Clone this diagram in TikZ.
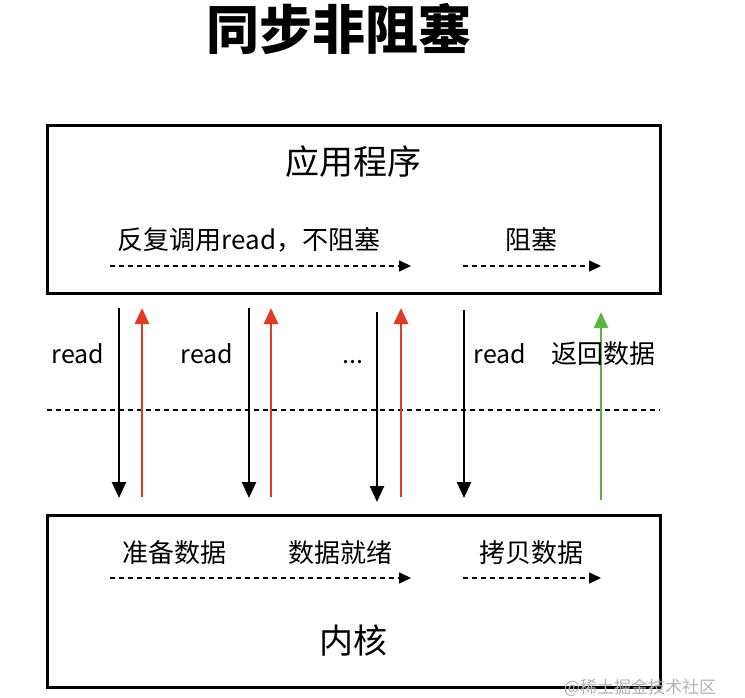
\documentclass[tikz,border=0pt]{standalone}
\usepackage{fontspec}
\setmainfont{Noto Sans CJK SC}
\usetikzlibrary{arrows.meta}
\definecolor{redarr}{RGB}{222,58,38}
\definecolor{greenarr}{RGB}{92,180,60}
\tikzset{
  box/.style={draw=black,line width=3pt},
  lbl/.style={inner sep=0pt,font=\fontsize{26}{26}\selectfont},
  rlbl/.style={inner sep=0pt,font=\fontsize{25}{25}\selectfont},
  big/.style={inner sep=0pt,font=\fontsize{34}{34}\selectfont},
  flow/.style={line width=1.6pt,dash pattern=on 5pt off 4pt,-{Triangle[width=11pt,length=12pt]}},
  down/.style={line width=2.6pt,-{Triangle[width=14pt,length=16pt]}},
  up/.style={line width=2.8pt,-{Triangle[width=14pt,length=16pt]}},
  sep/.style={line width=1.6pt,dash pattern=on 5pt off 4pt}
}
\begin{document}
\begin{tikzpicture}[x=1pt,y=-1pt]
\useasboundingbox (0,0) rectangle (745,698);
% title
\node[inner sep=0pt,font=\fontsize{53}{53}\selectfont\bfseries] (title) at (339,29) {同步非阻塞};
% application box
\node[box,minimum width=613pt,minimum height=168pt,inner sep=0pt] (app) at (353.5,209.5) {};
\node[big] (appname) at (353,162) {应用程序};
\node[lbl] (t1) at (249,240) {反复调用read，不阻塞};
\node[lbl] (t2) at (531,240) {阻塞};
\coordinate (a1s) at (110,266); \coordinate (a1e) at (411,266);
\coordinate (a2s) at (463,266); \coordinate (a2e) at (601,266);
\draw[flow] (a1s) -- (a1e);
\draw[flow] (a2s) -- (a2e);
% kernel box
\node[box,minimum width=613pt,minimum height=172pt,inner sep=0pt] (kern) at (353.5,601) {};
\node[big] (kname) at (353,641) {内核};
\node[lbl] (k1) at (174,553) {准备数据};
\node[lbl] (k2) at (340,553) {数据就绪};
\node[lbl] (k3) at (531,553) {拷贝数据};
\coordinate (b1s) at (110,578); \coordinate (b1e) at (411,578);
\coordinate (b2s) at (463,578); \coordinate (b2e) at (601,578);
\draw[flow] (b1s) -- (b1e);
\draw[flow] (b2s) -- (b2e);
% separator
\coordinate (sL) at (47,410); \coordinate (sR) at (660,410);
\draw[sep] (sL) -- (sR);
% calls
\coordinate (d1a) at (119,308); \coordinate (d1b) at (119,498);
\coordinate (u1a) at (142,497); \coordinate (u1b) at (142,308);
\coordinate (d2a) at (249,308); \coordinate (d2b) at (249,498);
\coordinate (u2a) at (271,497); \coordinate (u2b) at (271,308);
\coordinate (d3a) at (377,312); \coordinate (d3b) at (377,502);
\coordinate (u3a) at (401,497); \coordinate (u3b) at (401,308);
\coordinate (d4a) at (464,310); \coordinate (d4b) at (464,498);
\coordinate (u4a) at (601,500); \coordinate (u4b) at (601,312);
\draw[down] (d1a) -- (d1b);
\draw[down] (d2a) -- (d2b);
\draw[down] (d3a) -- (d3b);
\draw[down] (d4a) -- (d4b);
\draw[up,redarr] (u1a) -- (u1b);
\draw[up,redarr] (u2a) -- (u2b);
\draw[up,redarr] (u3a) -- (u3b);
\draw[up,greenarr] (u4a) -- (u4b);
\node[rlbl] (r1) at (78,354) {read};
\node[rlbl] (r2) at (207,354) {read};
\node[rlbl] (r3) at (353,354) {\vphantom{read}...};
\node[rlbl] (r4) at (500,354) {read};
\node[lbl] (ret) at (603,354) {返回数据};
% watermark
\node[inner sep=0pt,text=black!30,font=\fontsize{17}{17}\selectfont] (wm) at (640,688) {@稀土掘金技术社区};
\end{tikzpicture}
\end{document}
